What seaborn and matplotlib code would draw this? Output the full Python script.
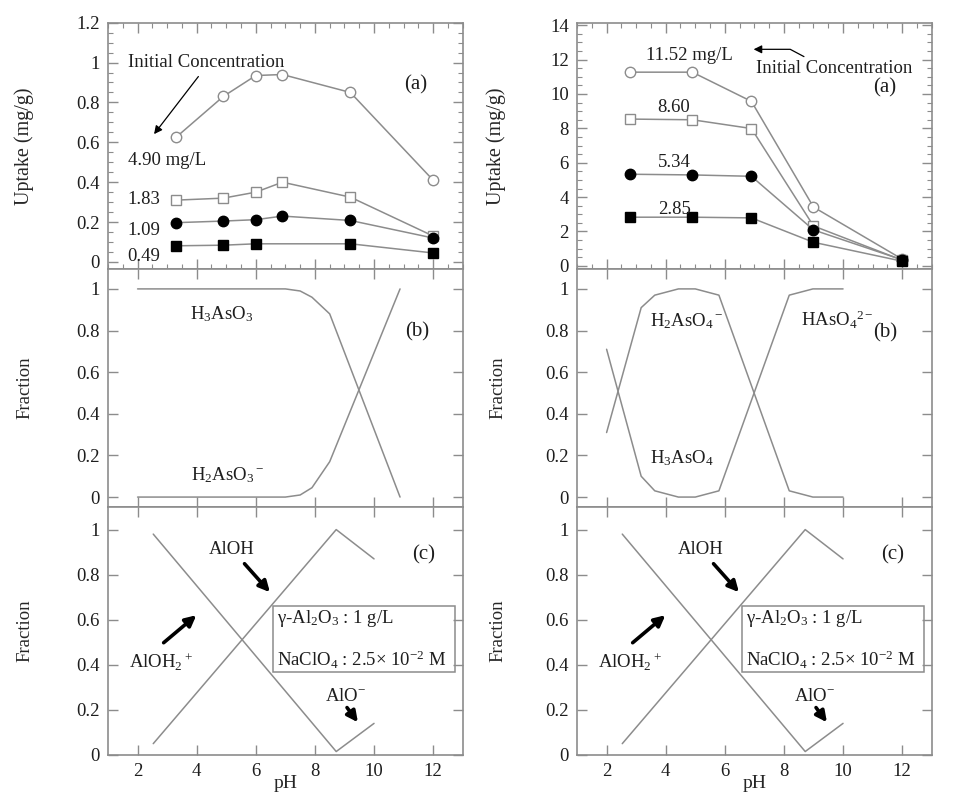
import matplotlib
matplotlib.use("Agg")
import matplotlib.pyplot as plt
import seaborn as sns
from matplotlib.ticker import AutoMinorLocator, MultipleLocator, FuncFormatter
from matplotlib.patches import Rectangle

# ---- data ----
# As(III), panel (a) left: uptake vs pH for four initial concentrations
ph_as3 = [3.3, 4.9, 6.0, 6.9, 9.2, 12.0]
up_490 = [0.625, 0.83, 0.935, 0.94, 0.85, 0.41]
up_183 = [0.31, 0.32, 0.35, 0.40, 0.325, 0.13]
up_109 = [0.197, 0.205, 0.212, 0.23, 0.208, 0.12]
ph_as3_049 = [3.3, 4.9, 6.0, 9.2, 12.0]
up_049 = [0.081, 0.084, 0.091, 0.091, 0.045]

# As(V), panel (a) right
ph_as5 = [2.8, 4.9, 6.9, 9.0, 12.0]
up_1152 = [11.27, 11.27, 9.57, 3.42, 0.39]
up_860 = [8.54, 8.50, 7.99, 2.32, 0.33]
up_534 = [5.33, 5.29, 5.21, 2.09, 0.35]
up_285 = [2.83, 2.83, 2.79, 1.37, 0.27]

# speciation of As(III), panel (b) left
ph_spec3 = [2.0, 7.0, 7.5, 7.9, 8.5, 10.88]
frac_h3aso3 = [1.0, 1.0, 0.99, 0.96, 0.88, 0.0]
frac_h2aso3 = [0.0, 0.0, 0.01, 0.045, 0.17, 1.0]

# speciation of As(V), panel (b) right
ph_spec5 = [2.0, 3.17, 3.63, 4.43, 5.0, 5.8, 8.18, 8.98, 10.0]
frac_h2aso4 = [0.31, 0.91, 0.97, 1.0, 1.0, 0.97, 0.03, 0.0, 0.0]
frac_h3_haso4 = [0.71, 0.10, 0.03, 0.0, 0.0, 0.03, 0.97, 1.0, 1.0]

# alumina surface species, panel (c)
ph_surf = [2.53, 8.72, 10.0]
frac_aloh2 = [0.98, 0.015, 0.14]
frac_aloh = [0.05, 1.0, 0.87]

GREY = "#8c8c8c"
INK = "#1e1e1e"

sns.set_style("ticks")
plt.rcParams["font.family"] = ["Liberation Serif", "DejaVu Serif"]
plt.rcParams["mathtext.fontset"] = "custom"
plt.rcParams["mathtext.rm"] = "Liberation Serif"
plt.rcParams["mathtext.it"] = "Liberation Serif"
plt.rcParams["text.color"] = INK

fmt = FuncFormatter(lambda v, p: f"{v:g}")


def style_axes(ax, minor=False, bottom_labels=False):
    for s in ax.spines.values():
        s.set_color(GREY)
        s.set_linewidth(1.2)
    ax.tick_params(which="both", direction="in", top=True, right=True,
                   color=GREY, labelcolor=INK, labelsize=13.5, pad=6)
    ax.tick_params(which="major", length=7, width=1)
    ax.tick_params(which="minor", length=3.5, width=0.8)
    ax.set_xlim(1, 13)
    ax.xaxis.set_major_locator(MultipleLocator(2))
    ax.yaxis.set_major_formatter(fmt)
    if minor:
        ax.xaxis.set_minor_locator(AutoMinorLocator(4))
        ax.yaxis.set_minor_locator(AutoMinorLocator(4))
    if not bottom_labels:
        ax.tick_params(labelbottom=False)
    ax.set_xlabel("")


def gline(ax, x, y, **kw):
    sns.lineplot(x=x, y=y, ax=ax, color=GREY, lw=1.1, estimator=None,
                 sort=False, **kw)


def uptake(ax, x, y, marker, filled):
    face = "black" if filled else "white"
    edge = "black" if filled else GREY
    sns.lineplot(x=x, y=y, ax=ax, color=GREY, lw=1.1, estimator=None,
                 marker=marker, markersize=7.5, markerfacecolor=face,
                 markeredgecolor=edge, markeredgewidth=1.0)


def panel_c(ax):
    gline(ax, ph_surf, frac_aloh2)
    gline(ax, ph_surf, frac_aloh)
    ax.set_ylim(0, 1.1)
    ax.yaxis.set_major_locator(MultipleLocator(0.2))
    thick = dict(arrowstyle="-|>", color="black", lw=2.6, mutation_scale=16)
    ax.annotate("AlOH", xy=(6.54, 0.713), xytext=(5.2, 0.91),
                ha="center", va="center", fontsize=13.5, arrowprops=thick)
    ax.annotate("", xy=(4.06, 0.628), xytext=(2.81, 0.49), arrowprops=thick)
    ax.text(1.7, 0.41, r"AlOH$_2$$^+$", fontsize=13.5, va="center")
    ax.annotate("", xy=(9.51, 0.135), xytext=(9.03, 0.22), arrowprops=thick)
    ax.text(9.05, 0.26, r"AlO$^{-}$", fontsize=13.5, ha="center", va="center")
    ax.add_patch(Rectangle((6.58, 0.369), 6.15, 0.291, fill=False,
                           edgecolor=GREY, lw=1.1))
    ax.text(6.72, 0.606, r"$\gamma$-Al$_2$O$_3$ : 1 g/L", fontsize=13.5,
            va="center")
    ax.text(6.72, 0.421, r"NaClO$_4$ : 2.5$\times$ 10$^{-2}$ M",
            fontsize=13.5, va="center")
    ax.text(11.68, 0.886, "(c)", fontsize=15, ha="center", va="center")
    ax.set_ylabel("Fraction", fontsize=13.5)


fig = plt.figure(figsize=(9.56, 8.10), dpi=100)
lefts = [0.113, 0.6036]
width = 0.371
rows = [(0.668, 0.304), (0.374, 0.294), (0.068, 0.306)]

# ---- left column: As(III) ----
axA = fig.add_axes([lefts[0], rows[0][0], width, rows[0][1]])
uptake(axA, ph_as3, up_490, "o", False)
uptake(axA, ph_as3, up_183, "s", False)
uptake(axA, ph_as3, up_109, "o", True)
uptake(axA, ph_as3_049, up_049, "s", True)
axA.set_ylim(-0.035, 1.2)
axA.yaxis.set_major_locator(MultipleLocator(0.2))
style_axes(axA, minor=True)
axA.set_ylabel("Uptake (mg/g)", fontsize=14.5)
axA.annotate("Initial Concentration", xy=(2.5, 0.63), xytext=(1.66, 1.0),
             fontsize=13.5, va="center",
             arrowprops=dict(arrowstyle="-|>", color="black", lw=0.9,
                             mutation_scale=12, relpos=(0.48, 0.0)))
for lab, yy in [("4.90 mg/L", 0.51), ("1.83", 0.314), ("1.09", 0.16),
                ("0.49", 0.029)]:
    axA.text(1.66, yy, lab, fontsize=13.5, va="center")
axA.text(11.4, 0.886, "(a)", fontsize=15, ha="center", va="center")

axB = fig.add_axes([lefts[0], rows[1][0], width, rows[1][1]])
gline(axB, ph_spec3, frac_h3aso3)
gline(axB, ph_spec3, frac_h2aso3)
axB.set_ylim(-0.048, 1.096)
axB.yaxis.set_major_locator(MultipleLocator(0.2))
style_axes(axB)
axB.set_ylabel("Fraction", fontsize=13.5)
axB.text(3.76, 0.88, r"H$_3$AsO$_3$", fontsize=13.5, va="center")
axB.text(3.8, 0.104, r"H$_2$AsO$_3$$^-$", fontsize=13.5, va="center")
axB.text(11.45, 0.795, "(b)", fontsize=15, ha="center", va="center")

axC = fig.add_axes([lefts[0], rows[2][0], width, rows[2][1]])
panel_c(axC)
style_axes(axC, bottom_labels=True)
axC.set_xlabel("pH", fontsize=14, labelpad=-4)

# ---- right column: As(V) ----
axD = fig.add_axes([lefts[1], rows[0][0], width, rows[0][1]])
uptake(axD, ph_as5, up_1152, "o", False)
uptake(axD, ph_as5, up_860, "s", False)
uptake(axD, ph_as5, up_534, "o", True)
uptake(axD, ph_as5, up_285, "s", True)
axD.set_ylim(-0.18, 14.15)
axD.yaxis.set_major_locator(MultipleLocator(2))
style_axes(axD, minor=True)
axD.set_ylabel("Uptake (mg/g)", fontsize=14.5)
axD.text(3.33, 12.25, "11.52 mg/L", fontsize=13.5, va="center")
axD.text(4.28, 9.22, "8.60", fontsize=13.5, ha="center", va="center")
axD.text(4.28, 6.0, "5.34", fontsize=13.5, ha="center", va="center")
axD.text(4.3, 3.26, "2.85", fontsize=13.5, ha="center", va="center")
axD.text(7.05, 11.5, "Initial Concentration", fontsize=13.5, va="center")
axD.annotate("", xy=(6.88, 12.6), xytext=(8.76, 12.1),
             arrowprops=dict(arrowstyle="-|>", color="black", lw=0.9,
                             mutation_scale=12,
                             connectionstyle="angle,angleA=152,angleB=0,rad=0"))
axD.text(11.42, 10.35, "(a)", fontsize=15, ha="center", va="center")

axE = fig.add_axes([lefts[1], rows[1][0], width, rows[1][1]])
gline(axE, ph_spec5, frac_h2aso4)
gline(axE, ph_spec5, frac_h3_haso4)
axE.set_ylim(-0.048, 1.096)
axE.yaxis.set_major_locator(MultipleLocator(0.2))
style_axes(axE)
axE.set_ylabel("Fraction", fontsize=13.5)
axE.text(3.47, 0.843, r"H$_2$AsO$_4$$^-$", fontsize=13.5, va="center")
axE.text(3.47, 0.186, r"H$_3$AsO$_4$", fontsize=13.5, va="center")
axE.text(8.59, 0.85, r"HAsO$_4$$^{2-}$", fontsize=13.5, va="center")
axE.text(11.42, 0.79, "(b)", fontsize=15, ha="center", va="center")

axF = fig.add_axes([lefts[1], rows[2][0], width, rows[2][1]])
panel_c(axF)
style_axes(axF, bottom_labels=True)
axF.set_xlabel("pH", fontsize=14, labelpad=-4)

for ax in (axA, axB, axC):
    ax.yaxis.set_label_coords(-0.21, 0.5)
for ax in (axD, axE, axF):
    ax.yaxis.set_label_coords(-0.20, 0.5)

fig.savefig("out.png", dpi=100)
